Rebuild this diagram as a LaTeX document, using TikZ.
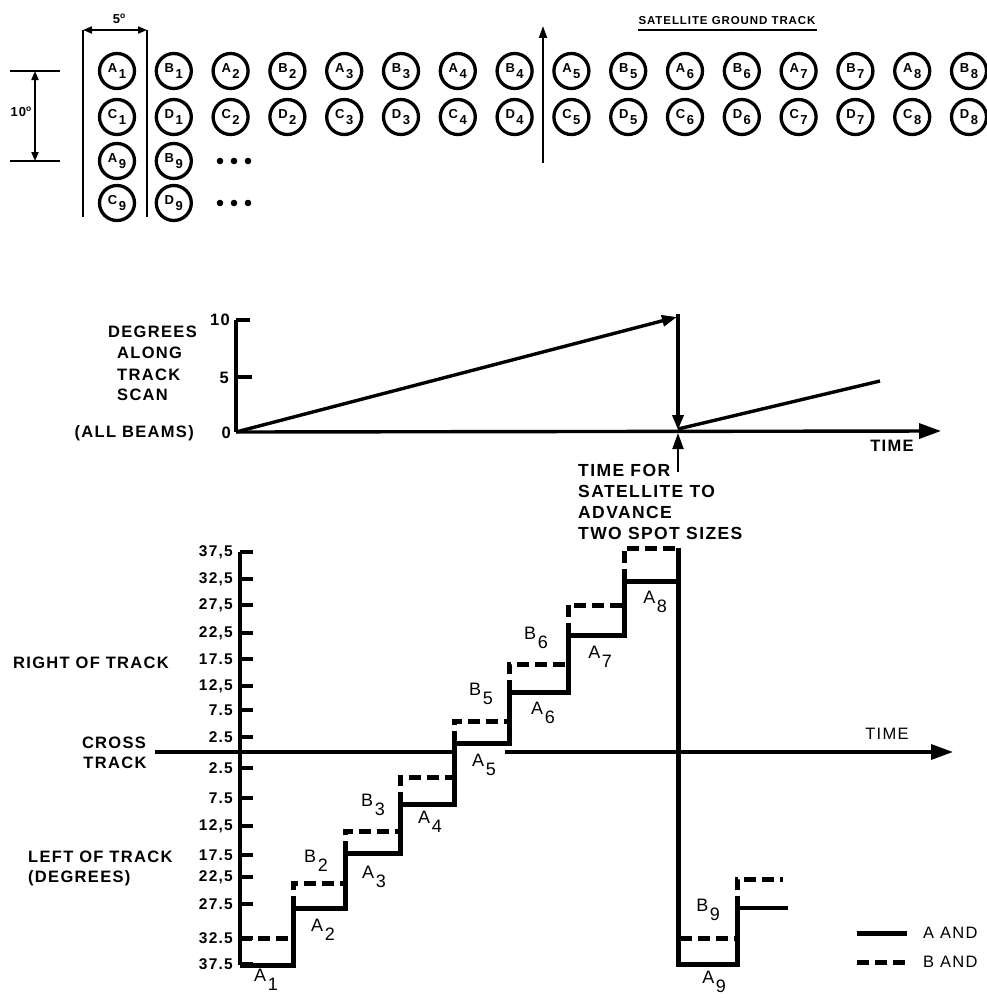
\documentclass[tikz,border=0pt]{standalone}
\usepackage{fontspec}
\setmainfont{Liberation Sans}[LetterSpace=8]
\usetikzlibrary{arrows.meta}
\newcommand{\stp}[2]{#1\kern1.5pt\raisebox{-1.0ex}{#2}}
\newcommand{\cbl}[2]{#1\kern1.5pt\raisebox{-0.8ex}{#2}}
\begin{document}
\begin{tikzpicture}[x=1pt,y=-1pt,
  lbl/.style={font=\fontsize{16.5}{18}\selectfont\bfseries, inner sep=0pt},
  tlbl/.style={font=\fontsize{17.5}{19}\selectfont\bfseries, inner sep=0pt, anchor=west},
  rlbl/.style={font=\fontsize{16.5}{18}\selectfont, inner sep=0pt},
  ticklbl/.style={font=\fontsize{15.5}{17}\selectfont\bfseries, inner sep=0pt, anchor=east},
  steplbl/.style={font=\fontsize{18}{20}\selectfont, inner sep=0pt},
  smalllbl/.style={font=\fontsize{13}{14}\selectfont\bfseries, inner sep=0pt},
  beam/.style={circle, draw, line width=3.3pt, minimum size=35pt, inner sep=0pt, font=\fontsize{13}{14}\selectfont\bfseries},
  thinline/.style={line width=2pt},
  axisline/.style={line width=3.4pt},
  aline/.style={line width=5pt},
  bline/.style={line width=5pt, dash pattern=on 12pt off 6pt},
  bigtip/.style={-{Triangle[length=22pt,width=15pt]}},
  dimarrow/.style={{Triangle[length=9pt,width=7pt]}-{Triangle[length=9pt,width=7pt]}},
  midtip/.style={-{Triangle[length=15pt,width=11pt]}}
]
\useasboundingbox (0,0) rectangle (987,998);

% ---------------- top: beam layout ----------------
\node[smalllbl] (fivedeg) at (119,19) {5\raisebox{0.8ex}{\fontsize{8.5}{9}\selectfont o}};
\coordinate (w1t) at (83,30); \coordinate (w1b) at (83,217);
\coordinate (w2t) at (147,30); \coordinate (w2b) at (147,217);
\draw[thinline] (w1t) -- (w1b);
\draw[thinline] (w2t) -- (w2b);
\draw[thinline, dimarrow] (w1t) -- (w2t);

\coordinate (h1l) at (10,71); \coordinate (h1r) at (60,71);
\coordinate (h2l) at (10,161); \coordinate (h2r) at (60,161);
\coordinate (d1) at (35,71); \coordinate (d2) at (35,161);
\draw[thinline] (h1l) -- (h1r);
\draw[thinline] (h2l) -- (h2r);
\draw[thinline, dimarrow] (d1) -- (d2);
\node[smalllbl] (tendeg) at (21,112) {10\raisebox{0.8ex}{\fontsize{8.5}{9}\selectfont o}};

\foreach \i in {1,...,8}{
  \pgfmathsetmacro\xa{117+113.6*(\i-1)}
  \pgfmathsetmacro\xb{\xa+56.8}
  \node[beam] (cA\i) at (\xa,71) {\cbl{A}{\i}};
  \node[beam] (cB\i) at (\xb,71) {\cbl{B}{\i}};
  \node[beam] (cC\i) at (\xa,117) {\cbl{C}{\i}};
  \node[beam] (cD\i) at (\xb,117) {\cbl{D}{\i}};
}
\node[beam] (cA9) at (117,161) {\cbl{A}{9}};
\node[beam] (cB9) at (173.8,161) {\cbl{B}{9}};
\node[beam] (cC9) at (117,203) {\cbl{C}{9}};
\node[beam] (cD9) at (173.8,203) {\cbl{D}{9}};
\foreach \yy in {161,203}{
  \foreach \xx in {220,234,248}{
    \fill (\xx,\yy) circle (3.3pt);
  }
}

\coordinate (trb) at (543,163); \coordinate (trt) at (543,26);
\draw[thinline, -{Triangle[length=12pt,width=8pt]}] (trb) -- (trt);
\node[smalllbl, font=\fontsize{11.5}{12}\selectfont\bfseries] (sgt) at (727,21) {SATELLITE GROUND TRACK};
\coordinate (ul1) at (638,30); \coordinate (ul2) at (817,30);
\draw[thinline] (ul1) -- (ul2);

% ---------------- middle: along track scan ----------------
\coordinate (mo) at (236,432);
\coordinate (mtop) at (236,320);
\coordinate (mend) at (941,431);
\draw[axisline] (mtop) -- (mo);
\draw[axisline] (mtop) -- ++(14,0);
\draw[axisline] (236,377) -- ++(16,0);
\draw[axisline, bigtip] (mo) -- (mend);
\node[lbl, anchor=east] (m10) at (230,320) {10};
\node[lbl, anchor=east] (m5) at (229,378) {5};
\node[lbl, anchor=east] (m0) at (231,433) {0};
\node[lbl, anchor=west] (degr) at (108,332) {DEGREES};
\node[lbl, anchor=west] (along) at (117,353) {ALONG};
\node[lbl, anchor=west] (track) at (117,375) {TRACK};
\node[lbl, anchor=west] (scan) at (117,395) {SCAN};
\node[lbl, anchor=east] (allb) at (194,433) {(ALL BEAMS)};
\node[lbl] (mtime) at (892,446) {TIME};

\coordinate (rtip) at (677,317);
\coordinate (vtop) at (678,314);
\coordinate (vbot) at (678,430);
\coordinate (ubot) at (678,472);
\coordinate (ustart) at (678,429);
\coordinate (rend) at (880,381);
\draw[axisline, midtip] (mo) -- (rtip);
\draw[axisline, midtip] (vtop) -- (vbot);
\draw[thinline, -{Triangle[length=16pt,width=11pt]}] (ubot) -- (678,433);
\draw[axisline] (ustart) -- (rend);
\node[tlbl] (tf1) at (578,470) {TIME FOR};
\node[tlbl] (tf2) at (578,491) {SATELLITE TO};
\node[tlbl] (tf3) at (578,512) {ADVANCE};
\node[tlbl] (tf4) at (578,533) {TWO SPOT SIZES};

% ---------------- bottom: cross track scan ----------------
\coordinate (btop) at (240,552);
\coordinate (bbot) at (240,965);
\draw[axisline] (btop) -- (bbot);
\foreach \yy/\tt in {552/{37,5},579/{32,5},605/{27,5},633/{22,5},659/{17.5},686/{12,5},710/{7.5},737/{2.5},768/{2.5},798/{7.5},826/{12,5},855/{17.5},877/{22,5},904/{27.5},938/{32.5},964/{37.5}}{
  \draw[axisline] (240,\yy) -- ++(13,0);
  \node[ticklbl] at (233,\yy) {\tt};
}
\coordinate (cl) at (155,752);
\coordinate (cg1) at (457,752);
\coordinate (cg2) at (505,752);
\coordinate (cr) at (953,752);
\draw[axisline] (cl) -- (cg1);
\draw[axisline, bigtip] (cg2) -- (cr);
\node[rlbl] (btime) at (887,734) {TIME};

\node[lbl, anchor=west] (rot) at (13,663) {RIGHT OF TRACK};
\node[lbl] (cross) at (114,743) {CROSS};
\node[lbl] (ctrack) at (115,763) {TRACK};
\node[lbl, anchor=west] (lot) at (28,857) {LEFT OF TRACK};
\node[lbl, anchor=west] (degs) at (28,878) {(DEGREES)};

% A beams (solid)
\draw[aline, line join=miter] (240,965) -- (293,965) -- (293,908) -- (345,908) -- (345,853) -- (400,853)
  -- (400,804) -- (454,804) -- (454,743) -- (509,743) -- (509,692) -- (568,692) -- (568,635)
  -- (624,635) -- (624,581) -- (678,581);
\draw[aline, line join=miter] (678,548) -- (678,964) -- (737,964) -- (737,908);
\draw[axisline] (737,908) -- (788,908);

% B beams (dashed)
\draw[bline] (240,938) -- (293,938);
\draw[bline] (293,908) -- (293,883) -- (343,883);
\draw[bline] (345,853) -- (345,831) -- (398,831);
\draw[bline] (400,804) -- (400,777) -- (452,777);
\draw[bline] (454,743) -- (454,721) -- (507,721);
\draw[bline] (509,692) -- (509,664) -- (566,664);
\draw[bline] (568,635) -- (568,605) -- (622,605);
\draw[bline] (624,581) -- (624,548) -- (678,548);
\draw[bline] (680,938) -- (735,938);
\draw[bline] (737,908) -- (737,879) -- (783,879);

% step labels
\node[steplbl] (lA1) at (266,980) {\stp{A}{1}};
\node[steplbl] (lA2) at (323,930) {\stp{A}{2}};
\node[steplbl] (lB2) at (316,861) {\stp{B}{2}};
\node[steplbl] (lA3) at (374,877) {\stp{A}{3}};
\node[steplbl] (lB3) at (373,805) {\stp{B}{3}};
\node[steplbl] (lA4) at (430,822) {\stp{A}{4}};
\node[steplbl] (lA5) at (484,765) {\stp{A}{5}};
\node[steplbl] (lB5) at (481,694) {\stp{B}{5}};
\node[steplbl] (lA6) at (543,713) {\stp{A}{6}};
\node[steplbl] (lB6) at (536,638) {\stp{B}{6}};
\node[steplbl] (lA7) at (600,657) {\stp{A}{7}};
\node[steplbl] (lA8) at (655,602) {\stp{A}{8}};
\node[steplbl] (lA9) at (714,982) {\stp{A}{9}};
\node[steplbl] (lB9) at (708,910) {\stp{B}{9}};

% legend
\coordinate (la1) at (857,933); \coordinate (la2) at (907,933);
\coordinate (lb1) at (857,962); \coordinate (lb2) at (910,962);
\draw[aline] (la1) -- (la2);
\draw[bline] (lb1) -- (lb2);
\node[rlbl, anchor=west] (aand) at (923,933) {A AND};
\node[rlbl, anchor=west] (band) at (923,962) {B AND};
\end{tikzpicture}
\end{document}
